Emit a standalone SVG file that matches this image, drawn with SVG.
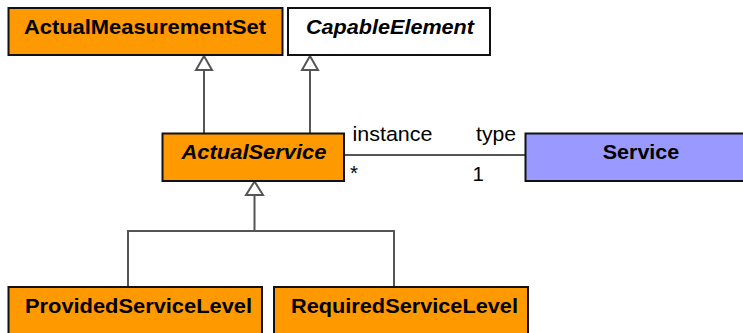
<svg xmlns="http://www.w3.org/2000/svg" width="743" height="333" viewBox="0 0 743 333">
<style>
.box{stroke:#111;stroke-width:2}
.orange{fill:#FF9900}
.white{fill:#FFFFFF}
.blue{fill:#9999FF}
.name{font-family:"Liberation Sans",Arial,sans-serif;font-size:20.5px;font-weight:bold;fill:#000;text-anchor:middle}
.it{font-style:italic}
.lbl{font-family:"Liberation Sans",Arial,sans-serif;font-size:20.5px;fill:#000}
.conn{stroke:#555;stroke-width:2;fill:none}
.tri{stroke:#555;stroke-width:2;fill:#fff}
</style>
<rect width="743" height="333" fill="#fff"/>
<g id="connectors">
<line class="conn" x1="204" y1="70" x2="204" y2="133"/>
<polygon class="tri" points="204,56 196,70 212,70"/>
<line class="conn" x1="310" y1="70" x2="310" y2="133"/>
<polygon class="tri" points="310,56 302,70 318,70"/>
<polyline class="conn" points="128,287 128,231 394,231 394,287"/>
<line class="conn" x1="254.5" y1="231" x2="254.5" y2="195"/>
<polygon class="tri" points="254.5,181.5 246,195 263,195"/>
<line class="conn" x1="344" y1="155" x2="525" y2="155"/>
<text class="lbl" x="352.5" y="140.5" textLength="80" lengthAdjust="spacingAndGlyphs">instance</text>
<text class="lbl" x="476" y="140.5" textLength="40" lengthAdjust="spacingAndGlyphs">type</text>
<text class="lbl" x="350" y="180">*</text>
<text class="lbl" x="472.5" y="181">1</text>
</g>
<g id="ActualMeasurementSet">
<rect class="box orange" x="8.5" y="8" width="274" height="47"/>
<text class="name" x="145" y="34" textLength="242" lengthAdjust="spacingAndGlyphs">ActualMeasurementSet</text>
</g>
<g id="CapableElement">
<rect class="box white" x="288" y="8" width="202" height="47"/>
<text class="name it" x="390" y="34" textLength="168" lengthAdjust="spacingAndGlyphs">CapableElement</text>
</g>
<g id="ActualService">
<rect class="box orange" x="162.5" y="133.5" width="181.5" height="47.5"/>
<text class="name it" x="254" y="158.5" textLength="145" lengthAdjust="spacingAndGlyphs">ActualService</text>
</g>
<g id="Service">
<rect class="box blue" x="525.5" y="133.5" width="232" height="47.5"/>
<text class="name" x="641" y="159" textLength="76.5" lengthAdjust="spacingAndGlyphs">Service</text>
</g>
<g id="ProvidedServiceLevel">
<rect class="box orange" x="8.5" y="287" width="253.5" height="60"/>
<text class="name" x="138.5" y="313" textLength="227" lengthAdjust="spacingAndGlyphs">ProvidedServiceLevel</text>
</g>
<g id="RequiredServiceLevel">
<rect class="box orange" x="274" y="287" width="254" height="60"/>
<text class="name" x="404.5" y="313" textLength="227" lengthAdjust="spacingAndGlyphs">RequiredServiceLevel</text>
</g>
</svg>
